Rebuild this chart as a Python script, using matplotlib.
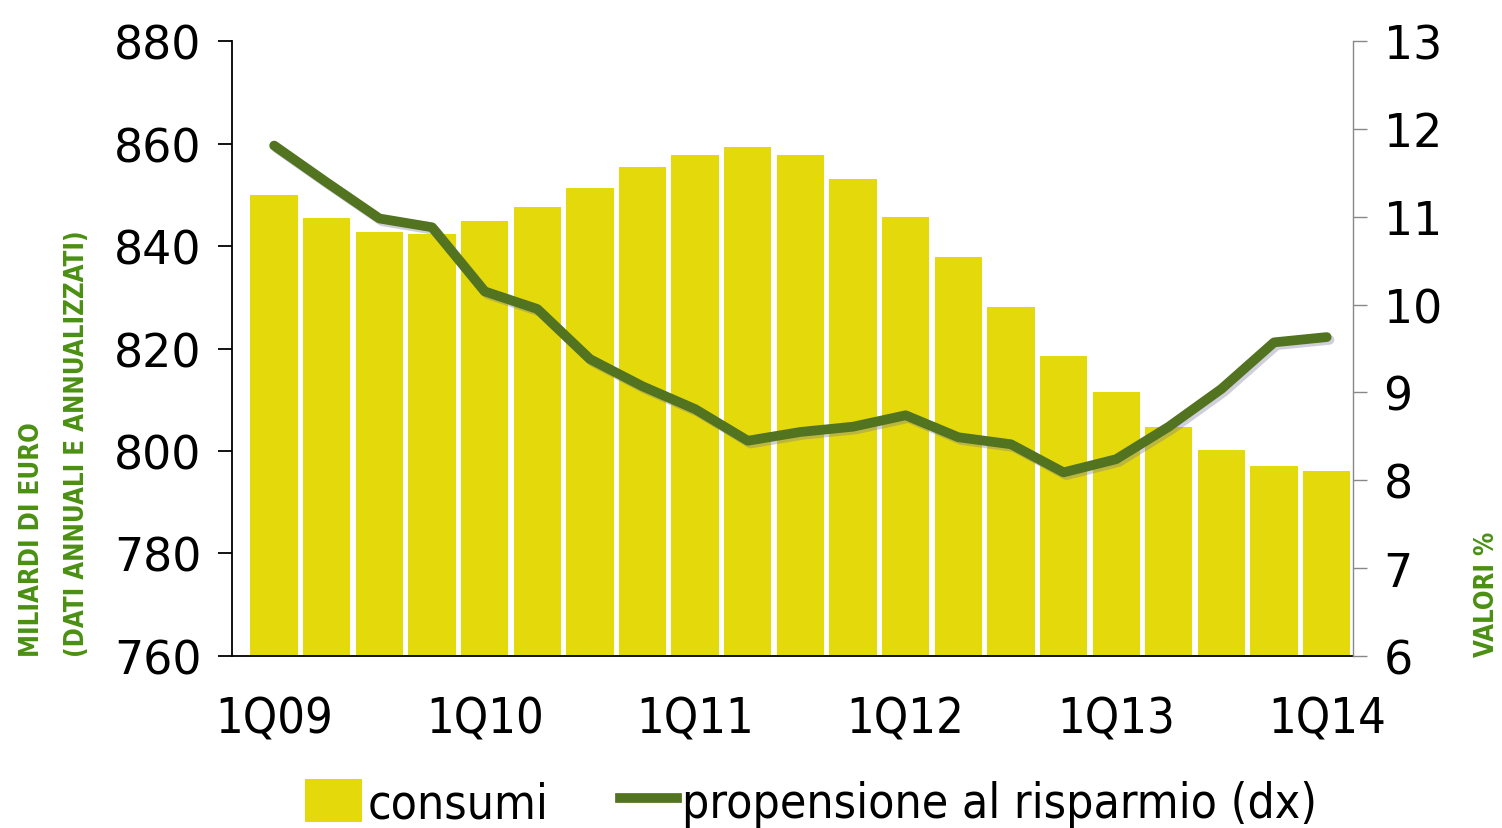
import numpy as np
import matplotlib
matplotlib.use("Agg")
import matplotlib.pyplot as plt
import matplotlib.patheffects as pe
from matplotlib import font_manager as fm
from matplotlib.patches import Patch
from matplotlib.lines import Line2D

# quarters 1Q09 .. 1Q14
quarters = ["1Q09", "2Q09", "3Q09", "4Q09",
            "1Q10", "2Q10", "3Q10", "4Q10",
            "1Q11", "2Q11", "3Q11", "4Q11",
            "1Q12", "2Q12", "3Q12", "4Q12",
            "1Q13", "2Q13", "3Q13", "4Q13",
            "1Q14"]

# consumi (miliardi di euro)
consumi = [850.0, 845.5, 842.7, 842.3,
           844.9, 847.6, 851.3, 855.4,
           857.8, 859.3, 857.8, 853.1,
           845.7, 837.9, 828.1, 818.5,
           811.5, 804.7, 800.2, 797.1,
           796.1]

# propensione al risparmio (%)
risparmio = [11.81, 11.39, 10.98, 10.88,
             10.15, 9.95, 9.38, 9.07,
             8.81, 8.45, 8.55, 8.61,
             8.74, 8.49, 8.41, 8.09,
             8.24, 8.61, 9.04, 9.57,
             9.63]

left_ticks = [760, 780, 800, 820, 840, 860, 880]
right_ticks = [6, 7, 8, 9, 10, 11, 12, 13]

YELLOW = "#E3D90B"
DKGREEN = "#52731F"
TXTGREEN = "#4A8F12"

def cond(size, weight="normal"):
    return fm.FontProperties(family="DejaVu Sans", stretch="condensed", size=size, weight=weight)

fig = plt.figure(figsize=(15.02, 8.29), dpi=100)
ax = fig.add_axes([0.1545, 0.2075, 0.7463, 0.7418])
x = np.arange(len(quarters))

ax.bar(x, consumi, width=0.9, color=YELLOW, zorder=2)
ax.set_ylim(760, 880)
ax.set_xlim(-0.8, 20.5)
ax.set_yticks(left_ticks)
ax.set_yticklabels([str(t) for t in left_ticks], fontsize=33)
ax.set_xticks(x[::4])
ax.set_xticklabels(quarters[::4], fontproperties=cond(35))
ax.tick_params(axis="y", direction="out", length=10, width=1.3, pad=12)
ax.tick_params(axis="x", length=0, pad=28)
ax.spines["top"].set_visible(False)
ax.spines["right"].set_visible(False)
ax.spines["left"].set_linewidth(1.3)
ax.spines["bottom"].set_linewidth(1.3)

ax2 = ax.twinx()
ax2.plot(x, risparmio, color=DKGREEN, lw=7, solid_capstyle="round",
         solid_joinstyle="round", zorder=3,
         path_effects=[pe.SimpleLineShadow(offset=(2, -2), shadow_color="#777799", alpha=0.35),
                       pe.Normal()])
ax2.set_ylim(6, 13)
ax2.set_yticks(right_ticks)
ax2.set_yticklabels([str(t) for t in right_ticks], fontsize=33)
ax2.tick_params(axis="y", direction="out", length=10, width=1.0, color="#888888", pad=12)
ax2.spines["top"].set_visible(False)
ax2.spines["left"].set_visible(False)
ax2.spines["bottom"].set_visible(False)
ax2.spines["right"].set_color("#888888")
ax2.spines["right"].set_linewidth(1.0)

# axis titles
fig.text(0.021, 0.208, "MILIARDI DI EURO", rotation=90, color=TXTGREEN,
         fontproperties=cond(18.5, "bold"), ha="center", va="bottom")
fig.text(0.051, 0.208, "(DATI ANNUALI E ANNUALIZZATI)", rotation=90, color=TXTGREEN,
         fontproperties=cond(18.5, "bold"), ha="center", va="bottom")
fig.text(0.990, 0.208, "VALORI %", rotation=90, color=TXTGREEN,
         fontproperties=cond(18.5, "bold"), ha="center", va="bottom")

handles = [Patch(facecolor=YELLOW, edgecolor="none"),
           Line2D([0], [0], color=DKGREEN, lw=7)]
fig.legend(handles, ["consumi", "propensione al risparmio (dx)"],
           loc="center", bbox_to_anchor=(0.54, 0.03), ncol=2, frameon=False,
           prop=cond(34.5), handlelength=1.2, handleheight=1.0,
           handletextpad=0.1, columnspacing=1.5)

fig.savefig("out.png", dpi=100)
